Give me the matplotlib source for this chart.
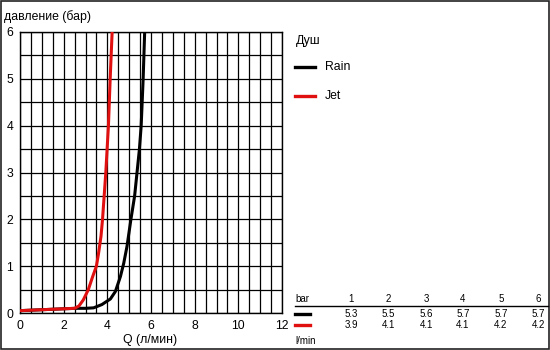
import numpy as np
import matplotlib.pyplot as plt
from matplotlib.lines import Line2D
from matplotlib.patches import Rectangle

plt.rcParams['font.family'] = ['Liberation Sans', 'DejaVu Sans']

# pressure (bar) vs flow (l/min) curves
rain_q = [0.0, 1.0, 2.0, 2.6, 3.0, 3.37, 3.75, 4.14, 4.37, 4.6, 4.75, 4.9, 5.08,
          5.25, 5.36, 5.47, 5.55, 5.64, 5.71]
rain_p = [0.05, 0.07, 0.09, 0.1, 0.1, 0.11, 0.18, 0.3, 0.46, 0.78, 1.06, 1.42, 2.0,
          2.5, 3.0, 3.5, 4.0, 5.0, 6.0]
jet_q = [0.0, 1.0, 2.0, 2.5, 2.7, 2.9, 3.13, 3.33, 3.5, 3.6, 3.71, 3.78, 3.93,
         4.05, 4.13, 4.22]
jet_p = [0.05, 0.07, 0.09, 0.1, 0.15, 0.28, 0.5, 0.78, 1.0, 1.28, 1.64, 2.0, 3.0,
         4.0, 5.0, 6.0]

# flow table
table_bar = ['1', '2', '3', '4', '5', '6']
rain_flow = ['5.3', '5.5', '5.6', '5.7', '5.7', '5.7']
jet_flow = ['3.9', '4.1', '4.1', '4.1', '4.2', '4.2']

RED = '#e01010'
W, H = 550, 350
fig = plt.figure(figsize=(5.5, 3.5), dpi=100)
fig.patch.set_facecolor('white')


def px(x, y):
    return x / W, 1 - y / H


ax = fig.add_axes([20 / W, 1 - 313 / H, 262 / W, 281 / H])
ax.set_xlim(0, 12)
ax.set_ylim(0, 6)
ax.set_xticks(range(0, 13, 2))
ax.set_yticks(range(0, 7))
ax.set_xticks(np.arange(0, 12.01, 0.5), minor=True)
ax.set_yticks(np.arange(0, 6.01, 0.5), minor=True)
ax.grid(which='both', color='black', linewidth=0.9)
ax.tick_params(which='both', length=0, labelsize=8.8)
ax.tick_params(axis='x', pad=5)
ax.tick_params(axis='y', pad=5)
for s in ax.spines.values():
    s.set_linewidth(1.0)

ax.plot(rain_q, rain_p, color='black', linewidth=2.2, zorder=3, solid_joinstyle='round')
ax.plot(jet_q, jet_p, color=RED, linewidth=2.2, zorder=3, solid_joinstyle='round')

fig.text(*px(150, 340), 'Q (л/мин)', fontsize=8.8, va='center', ha='center')
fig.text(*px(4, 17), 'давление (бар)', fontsize=8.8, va='center', ha='left')

# legend block
fig.text(*px(296, 41), 'Душ', fontsize=8.8, va='center')
for y, col, name in [(67, 'black', 'Rain'), (96, RED, 'Jet')]:
    fig.add_artist(Line2D([295 / W, 315 / W], [1 - y / H] * 2, color=col, linewidth=2.4))
    fig.text(*px(325, y), name, fontsize=8.8, va='center')

# table
col_x = [351, 388, 426, 463, 501, 538]
fig.text(*px(295, 299), 'bar', fontsize=7, va='center')
fig.add_artist(Line2D([295 / W, 548 / W], [1 - 306 / H] * 2, color='black', linewidth=1))
for x, b, r, j in zip(col_x, table_bar, rain_flow, jet_flow):
    fig.text(*px(x, 299), b, fontsize=7, va='center', ha='center')
    fig.text(*px(x, 314), r, fontsize=7, va='center', ha='center')
    fig.text(*px(x, 325), j, fontsize=7, va='center', ha='center')
for y, col in [(314, 'black'), (325, RED)]:
    fig.add_artist(Line2D([295 / W, 310 / W], [1 - y / H] * 2, color=col, linewidth=2.4))
fig.text(*px(295, 341), 'l/min', fontsize=7, va='center')

fig.add_artist(Rectangle((0.001, 0.0015), 0.998, 0.997, transform=fig.transFigure,
                         fill=False, edgecolor='#222222', linewidth=1.2))

fig.savefig('out.png', dpi=100)
